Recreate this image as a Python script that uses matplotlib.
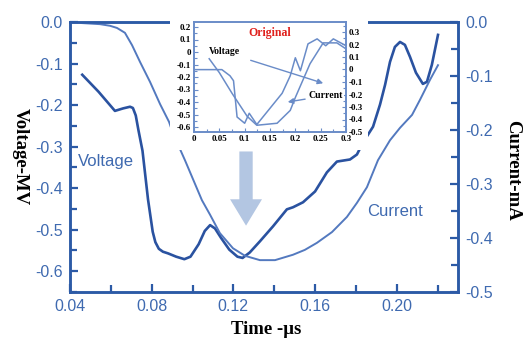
import matplotlib
matplotlib.use("Agg")
import matplotlib.pyplot as plt
from matplotlib.patches import Rectangle
from matplotlib.ticker import MultipleLocator, FuncFormatter

# main traces (time in us)
volt_t = [0.046, 0.054, 0.062, 0.066, 0.0694, 0.0708, 0.0722, 0.0735, 0.0755, 0.0782,
          0.0805, 0.0818, 0.0835, 0.0855, 0.088, 0.092, 0.096, 0.099, 0.103, 0.106,
          0.1086, 0.111, 0.114, 0.118, 0.122, 0.1245, 0.128, 0.133, 0.1394, 0.1462,
          0.1492, 0.1541, 0.160, 0.1658, 0.1707, 0.1771, 0.1805, 0.1835, 0.1884, 0.1918,
          0.1943, 0.1967, 0.1991, 0.2016, 0.204, 0.2065, 0.2094, 0.2128, 0.2148, 0.2172,
          0.2202]
volt_v = [-0.127, -0.168, -0.214, -0.208, -0.204, -0.207, -0.225, -0.26, -0.31, -0.427,
          -0.505, -0.53, -0.546, -0.553, -0.557, -0.565, -0.571, -0.565, -0.535, -0.503,
          -0.489, -0.497, -0.52, -0.548, -0.565, -0.568, -0.555, -0.528, -0.492, -0.451,
          -0.446, -0.434, -0.408, -0.362, -0.336, -0.331, -0.319, -0.29, -0.252, -0.199,
          -0.151, -0.096, -0.06, -0.048, -0.055, -0.084, -0.122, -0.149, -0.144, -0.103,
          -0.031]

curr_t = [0.046, 0.0547, 0.0596, 0.063, 0.0669, 0.0704, 0.0743, 0.0792, 0.0841, 0.0885,
          0.0904, 0.0963, 0.1046, 0.1086, 0.1134, 0.1198, 0.1257, 0.133, 0.1404, 0.1492,
          0.155, 0.1609, 0.1683, 0.1756, 0.1805, 0.1854, 0.1908, 0.1967, 0.2016, 0.2075,
          0.2114, 0.2163, 0.2202]
curr_i = [-0.002, -0.004, -0.007, -0.011, -0.02, -0.043, -0.074, -0.111, -0.152, -0.185,
          -0.206, -0.256, -0.33, -0.357, -0.391, -0.419, -0.433, -0.441, -0.441, -0.431,
          -0.422, -0.409, -0.389, -0.361, -0.335, -0.306, -0.256, -0.219, -0.196, -0.172,
          -0.144, -0.107, -0.08]

# inset ("Original") traces
in_volt_t = [0.0, 0.055, 0.071, 0.078, 0.085, 0.1, 0.109, 0.124, 0.15, 0.174,
             0.19, 0.2, 0.21, 0.225, 0.243, 0.26, 0.275, 0.3]
in_volt_v = [-0.141, -0.141, -0.19, -0.23, -0.52, -0.57, -0.49, -0.58, -0.45, -0.33,
             -0.19, -0.046, -0.15, 0.065, 0.105, 0.05, 0.105, 0.05]
in_curr_t = [0.03, 0.05, 0.075, 0.105, 0.124, 0.164, 0.19, 0.2, 0.229, 0.255, 0.282, 0.3]
in_curr_i = [0.086, -0.025, -0.19, -0.375, -0.446, -0.43, -0.327, -0.224, 0.046, 0.213, 0.213, 0.165]

spine_c = "#2c5aa6"
lab_c = "#3f6ab0"
volt_c = "#2a52a0"
curr_c = "#5379bf"
inset_c = "#6a8cc8"

fig = plt.figure(figsize=(5.23, 3.4), dpi=100)
ax = fig.add_axes([70/523, 1-292/340, 388/523, 270/340])
ax2 = ax.twinx()

ax.plot(volt_t, volt_v, color=volt_c, lw=1.9)
ax2.plot(curr_t, curr_i, color=curr_c, lw=1.4)

ax.set_xlim(0.04, 0.23)
ax.set_ylim(-0.65, 0.0)
ax2.set_ylim(-0.5, 0.0)

ax.xaxis.set_major_locator(MultipleLocator(0.04))
ax.xaxis.set_minor_locator(MultipleLocator(0.02))
ax.yaxis.set_major_locator(MultipleLocator(0.1))
ax.yaxis.set_minor_locator(MultipleLocator(0.05))
ax2.yaxis.set_major_locator(MultipleLocator(0.1))
ax2.yaxis.set_minor_locator(MultipleLocator(0.05))
ax.xaxis.set_major_formatter(FuncFormatter(lambda v, p: f"{v:.2f}"))
ax.yaxis.set_major_formatter(FuncFormatter(lambda v, p: f"{v:.1f}".replace("-0.0", "0.0")))
ax2.yaxis.set_major_formatter(FuncFormatter(lambda v, p: f"{v:.1f}".replace("-0.0", "0.0")))

for a in (ax, ax2):
    for s in a.spines.values():
        s.set_color(spine_c)
        s.set_linewidth(1.8)
    a.tick_params(which="both", direction="in", color=spine_c, width=1.6,
                  labelcolor=lab_c, labelsize=11.5, pad=5)
    a.tick_params(which="major", length=6)
    a.tick_params(which="minor", length=5)
    for t in a.get_xticklabels() + a.get_yticklabels():
        t.set_fontfamily("Liberation Sans")

ax.set_xlabel("Time -μs", fontfamily="Liberation Serif", fontweight="bold", fontsize=13.5)
ax.xaxis.set_label_coords(0.505, -0.14)
ax.xaxis.label.set_va("center")
ax.set_ylabel("Voltage-MV", fontfamily="Liberation Serif", fontweight="bold", fontsize=13.5,
              rotation=270, va="center")
ax.yaxis.set_label_coords(-0.128, 0.5)
ax2.set_ylabel("Current-mA", fontfamily="Liberation Serif", fontweight="bold", fontsize=13.5,
               rotation=270, va="center")
ax2.yaxis.set_label_coords(1.142, 0.45)

ax.text(0.0438, -0.335, "Voltage", color=lab_c, fontsize=12, fontfamily="Liberation Sans", va="center")
ax.text(0.1857, -0.455, "Current", color=lab_c, fontsize=12, fontfamily="Liberation Sans", va="center")

ax.annotate("", xy=(0.1262, -0.497), xytext=(0.1262, -0.305),
            arrowprops=dict(arrowstyle="simple,head_length=0.95,head_width=1.15,tail_width=0.48",
                            mutation_scale=20, fc="#b3c6e2", ec="none"))

# white backing behind the inset picture
fig.add_artist(Rectangle((170/523, 1-150/340), 198/523, 142/340, transform=fig.transFigure,
                         fc="white", ec="none", zorder=1.5))

ins = fig.add_axes([194/523, 1-132/340, 152/523, 110/340], zorder=2)
ins2 = ins.twinx()
ins.plot(in_volt_t, in_volt_v, color=inset_c, lw=1.1)
ins2.plot(in_curr_t, in_curr_i, color=inset_c, lw=1.1)
ins.set_xlim(0, 0.3)
ins.set_ylim(-0.64, 0.24)
ins2.set_ylim(-0.5, 0.38)
ins.xaxis.set_major_locator(MultipleLocator(0.05))
ins.xaxis.set_minor_locator(MultipleLocator(0.025))
ins.yaxis.set_major_locator(MultipleLocator(0.1))
ins.yaxis.set_minor_locator(MultipleLocator(0.05))
ins2.yaxis.set_major_locator(MultipleLocator(0.1))
ins2.yaxis.set_minor_locator(MultipleLocator(0.05))
fmt = FuncFormatter(lambda v, p: "0" if abs(v) < 1e-9 else f"{v:g}")
ins.xaxis.set_major_formatter(fmt)
ins.yaxis.set_major_formatter(fmt)
ins2.yaxis.set_major_formatter(fmt)
for a in (ins, ins2):
    for s in a.spines.values():
        s.set_color(inset_c)
        s.set_linewidth(1.2)
    a.tick_params(which="both", direction="in", color=inset_c, width=0.8,
                  labelsize=6.5, pad=2)
    a.tick_params(which="major", length=3)
    a.tick_params(which="minor", length=2)
    for t in a.get_xticklabels() + a.get_yticklabels():
        t.set_fontfamily("Liberation Serif")
        t.set_fontweight("bold")

ins.text(0.5, 0.9, "Original", transform=ins.transAxes, color="#e0201c", ha="center", va="center",
         fontfamily="Liberation Serif", fontweight="bold", fontsize=8.5)
ins.annotate("Voltage", xy=(0.255, -0.25), xytext=(0.06, -0.0),
             fontfamily="Liberation Serif", fontweight="bold", fontsize=7, va="center", ha="center",
             arrowprops=dict(arrowstyle="-|>", color=inset_c, lw=1, shrinkA=6, shrinkB=0,
                             mutation_scale=8))
ins2.annotate("Current", xy=(0.185, -0.26), xytext=(0.26, -0.21),
              fontfamily="Liberation Serif", fontweight="bold", fontsize=7, va="center", ha="center",
              bbox=dict(fc="white", ec="none", pad=0.5),
              arrowprops=dict(arrowstyle="-|>", color=inset_c, lw=1, shrinkA=2, shrinkB=0,
                              mutation_scale=8))

fig.savefig("out.png", dpi=100)
